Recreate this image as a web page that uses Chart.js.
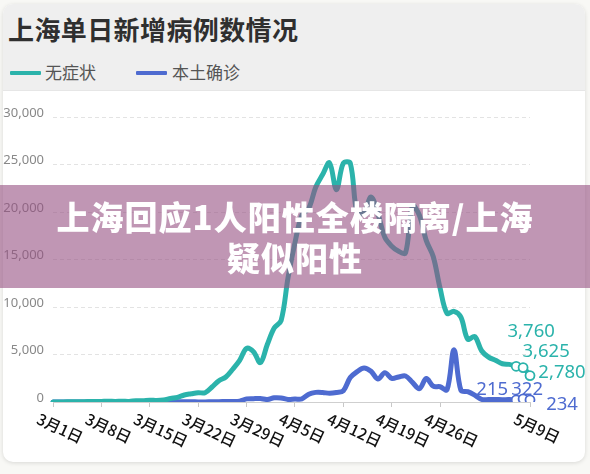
<!DOCTYPE html>
<html><head><meta charset="utf-8">
<script src="https://cdn.jsdelivr.net/npm/chart.js@4.4.1/dist/chart.umd.min.js"></script>
<style>
html,body{margin:0;padding:0;width:590px;height:474px;overflow:hidden;background:#f8f8f5;}
#card{position:absolute;left:3px;top:4px;width:582px;height:458px;background:#fff;border-radius:10px;box-shadow:0 1px 4px rgba(0,0,0,0.13);overflow:hidden;}
#head{position:absolute;left:0;top:0;width:100%;height:86px;background:#efefef;border-bottom:1px solid #e6e6e6;}
#title{position:absolute;left:5px;top:10px;font-family:"Noto Sans CJK SC";font-weight:bold;font-size:26px;line-height:30px;color:#2f2f2f;letter-spacing:0.4px;white-space:nowrap;}
.lg{position:absolute;top:56px;font-family:"Noto Sans CJK SC";font-size:17px;line-height:24px;color:#555;white-space:nowrap;}
.sw{position:absolute;top:67px;height:4px;width:31px;border-radius:1px;}
#c{position:absolute;left:0;top:0;z-index:2;}
#banner{position:absolute;left:0;top:185px;width:590px;height:103px;background:rgba(150,80,130,0.6);z-index:3;
 font-family:"Noto Sans CJK SC";font-weight:900;font-size:33px;line-height:41px;color:#fff;text-align:center;letter-spacing:1px;padding-top:11px;box-sizing:border-box;}
</style></head>
<body>
<div id="card">
  <div id="head">
    <div id="title">上海单日新增病例数情况</div>
    <div class="sw" style="left:7px;background:#2bb3ab"></div>
    <div class="lg" style="left:42px">无症状</div>
    <div class="sw" style="left:133px;background:#4e6bd0"></div>
    <div class="lg" style="left:169px">本土确诊</div>
  </div>
</div>
<canvas id="c" width="590" height="474"></canvas>
<div id="banner">上海回应1人阳性全楼隔离/上海<br>疑似阳性</div>
<script>
const categories = [
 '3月1日','3月2日','3月3日','3月4日','3月5日','3月6日','3月7日','3月8日','3月9日','3月10日',
 '3月11日','3月12日','3月13日','3月14日','3月15日','3月16日','3月17日','3月18日','3月19日','3月20日',
 '3月21日','3月22日','3月23日','3月24日','3月25日','3月26日','3月27日','3月28日','3月29日','3月30日','3月31日',
 '4月1日','4月2日','4月3日','4月4日','4月5日','4月6日','4月7日','4月8日','4月9日','4月10日',
 '4月11日','4月12日','4月13日','4月14日','4月15日','4月16日','4月17日','4月18日','4月19日','4月20日',
 '4月21日','4月22日','4月23日','4月24日','4月25日','4月26日','4月27日','4月28日','4月29日','4月30日',
 '5月1日','5月2日','5月3日','5月4日','5月5日','5月6日','5月7日','5月8日','5月9日'];
const asymptomatic = [
 1,5,14,16,28,45,51,62,76,64,
 78,64,128,130,197,150,203,366,492,734,
 865,977,979,1580,2231,2631,3450,4381,5656,5298,4144,
 6051,7788,8581,13086,16766,19660,20398,22609,23937,25173,
 22348,25141,25146,19872,19923,21582,19831,17332,16407,15861,
 15698,20634,19657,16983,15319,11956,9330,9545,8932,6606,
 6895,5395,4722,4390,4024,3961,3760,3625,2780];
const localConfirmed = [
 1,3,2,3,0,3,1,3,4,11,
 5,1,41,9,5,8,57,8,17,24,
 31,4,4,29,38,45,50,96,326,355,358,
 260,438,425,268,311,322,824,1015,1006,914,
 994,1189,2573,3200,3590,3238,2417,3084,2494,2634,
 2736,2058,1401,2472,1661,1606,1292,5487,1249,1082,
 727,274,260,261,245,253,215,322,234];
const xTickLabels = ['3月1日','3月8日','3月15日','3月22日','3月29日','4月5日','4月12日','4月19日','4月26日','5月9日'];
const yTicks = [0,5000,10000,15000,20000,25000,30000];
const seriesNames = ['无症状','本土确诊'];
const labeledDays = ['5月7日','5月8日','5月9日'];

const TEAL = '#2bb3ab', BLUE = '#4e6bd0';
const xTickIdx = xTickLabels.map(l => categories.indexOf(l));
const markIdx = labeledDays.map(l => categories.indexOf(l));

const labelOffsets = [
  [[15,-35],[23,-16],[32,-3]],
  [[-24,-10],[4,-9],[32,5]]
];

const overlay = {
  id: 'overlay',
  afterDraw(chart) {
    const ctx = chart.ctx;
    const xs = chart.scales.x;
    const baseY = chart.chartArea.bottom;
    ctx.save();
    ctx.fillStyle = '#111';
    ctx.font = '500 15.5px "Noto Sans CJK SC"';
    ctx.textAlign = 'left';
    ctx.textBaseline = 'middle';
    xTickIdx.forEach((i, k) => {
      const px = xs.getPixelForValue(i);
      ctx.save();
      ctx.translate(px - 15, baseY + 16);
      ctx.rotate(25 * Math.PI / 180);
      ctx.fillText(xTickLabels[k], 0, 0);
      ctx.restore();
    });
    ctx.font = '18.5px "Noto Sans"';
    ctx.textAlign = 'center';
    chart.data.datasets.forEach((ds, d) => {
      const meta = chart.getDatasetMeta(d);
      ctx.fillStyle = ds.borderColor;
      markIdx.forEach((i, k) => {
        const pt = meta.data[i];
        const o = labelOffsets[d][k];
        ctx.fillText(ds.data[i].toLocaleString('en-US'), pt.x + o[0], pt.y + o[1]);
      });
    });
    ctx.restore();
  }
};

const mkDs = (label, data, color) => ({
  label, data,
  borderColor: color,
  backgroundColor: color,
  borderWidth: 5,
  tension: 0.35,
  fill: false,
  pointRadius: c => markIdx.includes(c.dataIndex) ? 4.5 : 0,
  pointBackgroundColor: '#fff',
  pointBorderColor: color,
  pointBorderWidth: 1.8,
  borderCapStyle: 'round',
  borderJoinStyle: 'round'
});

new Chart(document.getElementById('c'), {
  type: 'line',
  data: {
    labels: categories,
    datasets: [
      mkDs(seriesNames[0], asymptomatic, TEAL),
      mkDs(seriesNames[1], localConfirmed, BLUE)
    ]
  },
  options: {
    responsive: false,
    animation: false,
    devicePixelRatio: 1,
    layout: { padding: { top: 117, right: 60, left: 0, bottom: 0 } },
    plugins: { legend: { display: false }, tooltip: { enabled: false }, title: { display: false } },
    scales: {
      x: {
        type: 'category',
        offset: false,
        afterFit: s => { s.height = 72; },
        ticks: { display: false },
        grid: {
          drawOnChartArea: false,
          drawTicks: true,
          tickLength: 5,
          tickColor: c => xTickIdx.includes(c.index) ? '#c8c8c8' : 'rgba(0,0,0,0)'
        },
        border: { display: true, color: '#cfcfcf', width: 1 }
      },
      y: {
        min: 0, max: 30000,
        afterFit: s => { s.width = 53; },
        afterBuildTicks: s => { s.ticks = yTicks.map(v => ({ value: v })); },
        ticks: {
          padding: 9,
          labelOffset: -4,
          color: '#888',
          font: { family: 'Noto Sans', size: 13 },
          callback: v => v.toLocaleString('en-US')
        },
        grid: { color: '#e3e3e3', drawTicks: false, lineWidth: 1 },
        border: { display: false, dash: [4, 3] }
      }
    }
  },
  plugins: [overlay]
});
</script>
</body></html>
